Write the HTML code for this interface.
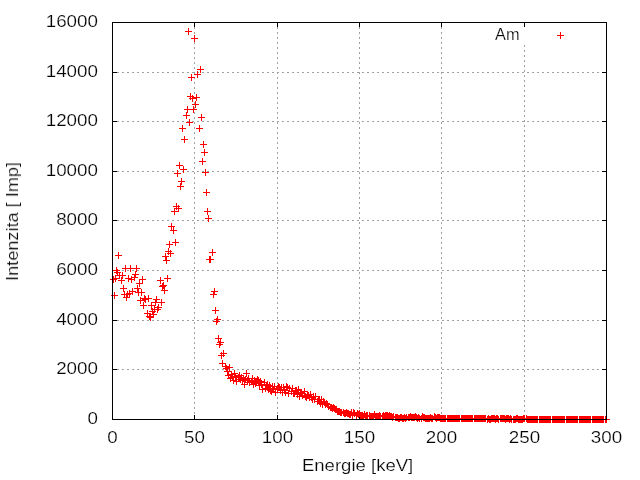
<!DOCTYPE html>
<html><head><meta charset="utf-8"><title>Am</title>
<style>
html,body{margin:0;padding:0;background:#fff;}
body{width:640px;height:480px;overflow:hidden;}
svg{display:block;}
text{font-family:"Liberation Sans",sans-serif;font-size:16.5px;fill:#000;stroke:#fff;stroke-width:0.2px;}
</style></head><body>
<svg width="640" height="480" viewBox="0 0 640 480">
<rect width="640" height="480" fill="#fff"/>
<g fill="none" stroke="#a0a0a0" stroke-width="1" shape-rendering="crispEdges">
<path d="M112 369.5H606M112 320.5H606M112 270.5H606M112 220.5H606M112 171.5H606M112 121.5H606M112 72.5H606" stroke-dasharray="2 3"/>
<path d="M194.5 27V415" stroke-dasharray="2 3"/><path d="M277.5 27V415" stroke-dasharray="2 3"/><path d="M359.5 27V415" stroke-dasharray="2 3"/><path d="M441.5 27V415" stroke-dasharray="2 3"/><path d="M524.5 45V415" stroke-dasharray="2 3"/>
</g>
<path d="M557 35.5h7M560.5 32v7" fill="none" stroke="#ff0000" stroke-width="1" shape-rendering="crispEdges"/>
<path d="M112 419.5h5M607 419.5h-5M112 369.5h5M607 369.5h-5M112 320.5h5M607 320.5h-5M112 270.5h5M607 270.5h-5M112 220.5h5M607 220.5h-5M112 171.5h5M607 171.5h-5M112 121.5h5M607 121.5h-5M112 72.5h5M607 72.5h-5M112 22.5h5M607 22.5h-5M112.5 420v-5M112.5 22v5M194.5 420v-5M194.5 22v5M277.5 420v-5M277.5 22v5M359.5 420v-5M359.5 22v5M441.5 420v-5M441.5 22v5M524.5 420v-5M524.5 22v5M606.5 420v-5M606.5 22v5" fill="none" stroke="#000" stroke-width="1" shape-rendering="crispEdges"/>
<path d="M110 279.5h7M113.5 276v7M111 295.5h7M114.5 292v7M112 278.5h7M115.5 275v7M113 270.5h7M116.5 267v7M114 272.5h7M117.5 269v7M115 255.5h7M118.5 252v7M116 275.5h7M119.5 272v7M118 280.5h7M121.5 277v7M119 275.5h7M122.5 272v7M120 288.5h7M123.5 285v7M121 294.5h7M124.5 291v7M122 268.5h7M125.5 265v7M123 297.5h7M126.5 294v7M124 294.5h7M127.5 291v7M125 278.5h7M128.5 275v7M126 293.5h7M129.5 290v7M127 268.5h7M130.5 265v7M128 279.5h7M131.5 276v7M129 291.5h7M132.5 288v7M131 277.5h7M134.5 274v7M132 274.5h7M135.5 271v7M133 268.5h7M136.5 265v7M134 288.5h7M137.5 285v7M135 292.5h7M138.5 289v7M136 283.5h7M139.5 280v7M137 300.5h7M140.5 297v7M138 292.5h7M141.5 289v7M139 279.5h7M142.5 276v7M140 305.5h7M143.5 302v7M141 298.5h7M144.5 295v7M142 299.5h7M145.5 296v7M144 313.5h7M147.5 310v7M145 298.5h7M148.5 295v7M146 316.5h7M149.5 313v7M147 317.5h7M150.5 314v7M148 305.5h7M151.5 302v7M149 311.5h7M152.5 308v7M150 314.5h7M153.5 311v7M151 309.5h7M154.5 306v7M152 302.5h7M155.5 299v7M153 299.5h7M156.5 296v7M154 309.5h7M157.5 306v7M155 307.5h7M158.5 304v7M157 280.5h7M160.5 277v7M158 302.5h7M161.5 299v7M159 286.5h7M162.5 283v7M160 285.5h7M163.5 282v7M161 290.5h7M164.5 287v7M162 256.5h7M165.5 253v7M163 260.5h7M166.5 257v7M164 278.5h7M167.5 275v7M165 251.5h7M168.5 248v7M166 244.5h7M169.5 241v7M167 253.5h7M170.5 250v7M168 226.5h7M171.5 223v7M170 230.5h7M173.5 227v7M171 211.5h7M174.5 208v7M172 242.5h7M175.5 239v7M173 206.5h7M176.5 203v7M174 173.5h7M177.5 170v7M175 208.5h7M178.5 205v7M176 165.5h7M179.5 162v7M177 186.5h7M180.5 183v7M178 181.5h7M181.5 178v7M179 128.5h7M182.5 125v7M180 169.5h7M183.5 166v7M181 139.5h7M184.5 136v7M183 115.5h7M186.5 112v7M184 109.5h7M187.5 106v7M185 31.5h7M188.5 28v7M186 122.5h7M189.5 119v7M187 96.5h7M190.5 93v7M188 77.5h7M191.5 74v7M189 98.5h7M192.5 95v7M190 109.5h7M193.5 106v7M191 38.5h7M194.5 35v7M192 104.5h7M195.5 101v7M193 97.5h7M196.5 94v7M194 74.5h7M197.5 71v7M196 128.5h7M199.5 125v7M197 69.5h7M200.5 66v7M198 117.5h7M201.5 114v7M199 161.5h7M202.5 158v7M200 144.5h7M203.5 141v7M201 152.5h7M204.5 149v7M202 172.5h7M205.5 169v7M203 192.5h7M206.5 189v7M204 211.5h7M207.5 208v7M205 218.5h7M208.5 215v7M206 259.5h7M209.5 256v7M207 259.5h7M210.5 256v7M209 252.5h7M212.5 249v7M210 294.5h7M213.5 291v7M211 291.5h7M214.5 288v7M212 310.5h7M215.5 307v7M213 321.5h7M216.5 318v7M214 319.5h7M217.5 316v7M215 338.5h7M218.5 335v7M216 344.5h7M219.5 341v7M217 342.5h7M220.5 339v7M218 355.5h7M221.5 352v7M219 363.5h7M222.5 360v7M220 353.5h7M223.5 350v7M222 366.5h7M225.5 363v7M223 368.5h7M226.5 365v7M224 371.5h7M227.5 368v7M225 375.5h7M228.5 372v7M226 367.5h7M229.5 364v7M227 378.5h7M230.5 375v7M228 374.5h7M231.5 371v7M229 377.5h7M232.5 374v7M230 380.5h7M233.5 377v7M231 373.5h7M234.5 370v7M232 376.5h7M235.5 373v7M233 381.5h7M236.5 378v7M235 377.5h7M238.5 374v7M236 375.5h7M239.5 372v7M237 379.5h7M240.5 376v7M238 377.5h7M241.5 374v7M239 380.5h7M242.5 377v7M240 378.5h7M243.5 375v7M241 384.5h7M244.5 381v7M242 379.5h7M245.5 376v7M243 373.5h7M246.5 370v7M244 380.5h7M247.5 377v7M245 378.5h7M248.5 375v7M246 382.5h7M249.5 379v7M248 381.5h7M251.5 378v7M249 378.5h7M252.5 375v7M250 384.5h7M253.5 381v7M251 380.5h7M254.5 377v7M252 383.5h7M255.5 380v7M253 381.5h7M256.5 378v7M254 379.5h7M257.5 376v7M255 380.5h7M258.5 377v7M256 385.5h7M259.5 382v7M257 381.5h7M260.5 378v7M258 384.5h7M261.5 381v7M259 389.5h7M262.5 386v7M261 382.5h7M264.5 379v7M262 388.5h7M265.5 385v7M263 385.5h7M266.5 382v7M264 384.5h7M267.5 381v7M265 389.5h7M268.5 386v7M266 385.5h7M269.5 382v7M267 390.5h7M270.5 387v7M268 391.5h7M271.5 388v7M269 386.5h7M272.5 383v7M270 389.5h7M273.5 386v7M271 386.5h7M274.5 383v7M272 392.5h7M275.5 389v7M274 388.5h7M277.5 385v7M275 386.5h7M278.5 383v7M276 387.5h7M279.5 384v7M277 390.5h7M280.5 387v7M278 387.5h7M281.5 384v7M279 392.5h7M282.5 389v7M280 387.5h7M283.5 384v7M281 390.5h7M284.5 387v7M282 392.5h7M285.5 389v7M283 386.5h7M286.5 383v7M284 387.5h7M287.5 384v7M285 393.5h7M288.5 390v7M286 388.5h7M289.5 385v7M288 391.5h7M291.5 388v7M289 388.5h7M292.5 385v7M290 393.5h7M293.5 390v7M291 393.5h7M294.5 390v7M292 390.5h7M295.5 387v7M293 390.5h7M296.5 387v7M294 394.5h7M297.5 391v7M295 389.5h7M298.5 386v7M296 396.5h7M299.5 393v7M297 392.5h7M300.5 389v7M298 393.5h7M301.5 390v7M299 395.5h7M302.5 392v7M301 391.5h7M304.5 388v7M302 396.5h7M305.5 393v7M303 397.5h7M306.5 394v7M304 395.5h7M307.5 392v7M305 395.5h7M308.5 392v7M306 397.5h7M309.5 394v7M307 394.5h7M310.5 391v7M308 397.5h7M311.5 394v7M309 399.5h7M312.5 396v7M310 396.5h7M313.5 393v7M311 399.5h7M314.5 396v7M312 396.5h7M315.5 393v7M314 401.5h7M317.5 398v7M315 399.5h7M318.5 396v7M316 399.5h7M319.5 396v7M317 403.5h7M320.5 400v7M318 399.5h7M321.5 396v7M319 404.5h7M322.5 401v7M320 401.5h7M323.5 398v7M321 402.5h7M324.5 399v7M322 404.5h7M325.5 401v7M323 403.5h7M326.5 400v7M324 404.5h7M327.5 401v7M325 406.5h7M328.5 403v7M327 407.5h7M330.5 404v7M328 407.5h7M331.5 404v7M329 408.5h7M332.5 405v7M330 407.5h7M333.5 404v7M331 408.5h7M334.5 405v7M332 409.5h7M335.5 406v7M333 409.5h7M336.5 406v7M334 411.5h7M337.5 408v7M335 411.5h7M338.5 408v7M336 411.5h7M339.5 408v7M337 412.5h7M340.5 409v7M338 412.5h7M341.5 409v7M340 412.5h7M343.5 409v7M341 413.5h7M344.5 410v7M342 413.5h7M345.5 410v7M343 412.5h7M346.5 409v7M344 413.5h7M347.5 410v7M345 413.5h7M348.5 410v7M346 414.5h7M349.5 411v7M347 414.5h7M350.5 411v7M348 412.5h7M351.5 409v7M349 415.5h7M352.5 412v7M350 412.5h7M353.5 409v7M351 413.5h7M354.5 410v7M353 415.5h7M356.5 412v7M354 413.5h7M357.5 410v7M355 414.5h7M358.5 411v7M356 413.5h7M359.5 410v7M357 415.5h7M360.5 412v7M358 415.5h7M361.5 412v7M359 415.5h7M362.5 412v7M360 416.5h7M363.5 413v7M361 414.5h7M364.5 411v7M362 416.5h7M365.5 413v7M363 415.5h7M366.5 412v7M364 415.5h7M367.5 412v7M366 415.5h7M369.5 412v7M367 416.5h7M370.5 413v7M368 416.5h7M371.5 413v7M369 416.5h7M372.5 413v7M370 416.5h7M373.5 413v7M371 414.5h7M374.5 411v7M372 416.5h7M375.5 413v7M373 416.5h7M376.5 413v7M374 416.5h7M377.5 413v7M375 416.5h7M378.5 413v7M376 415.5h7M379.5 412v7M377 416.5h7M380.5 413v7M379 416.5h7M382.5 413v7M380 415.5h7M383.5 412v7M381 416.5h7M384.5 413v7M382 415.5h7M385.5 412v7M383 415.5h7M386.5 412v7M384 415.5h7M387.5 412v7M385 416.5h7M388.5 413v7M386 415.5h7M389.5 412v7M387 416.5h7M390.5 413v7M388 416.5h7M391.5 413v7M389 417.5h7M392.5 414v7M390 416.5h7M393.5 413v7M392 417.5h7M395.5 414v7M393 417.5h7M396.5 414v7M394 417.5h7M397.5 414v7M395 418.5h7M398.5 415v7M396 418.5h7M399.5 415v7M397 417.5h7M400.5 414v7M398 417.5h7M401.5 414v7M399 418.5h7M402.5 415v7M400 418.5h7M403.5 415v7M401 417.5h7M404.5 414v7M402 418.5h7M405.5 415v7M403 417.5h7M406.5 414v7M405 417.5h7M408.5 414v7M406 417.5h7M409.5 414v7M407 416.5h7M410.5 413v7M408 417.5h7M411.5 414v7M409 417.5h7M412.5 414v7M410 417.5h7M413.5 414v7M411 417.5h7M414.5 414v7M412 416.5h7M415.5 413v7M413 417.5h7M416.5 414v7M414 418.5h7M417.5 415v7M415 417.5h7M418.5 414v7M416 418.5h7M419.5 415v7M418 418.5h7M421.5 415v7M419 416.5h7M422.5 413v7M420 417.5h7M423.5 414v7M421 417.5h7M424.5 414v7M422 418.5h7M425.5 415v7M423 418.5h7M426.5 415v7M424 418.5h7M427.5 415v7M425 418.5h7M428.5 415v7M426 418.5h7M429.5 415v7M427 417.5h7M430.5 414v7M428 418.5h7M431.5 415v7M429 418.5h7M432.5 415v7M431 416.5h7M434.5 413v7M432 417.5h7M435.5 414v7M433 418.5h7M436.5 415v7M434 417.5h7M437.5 414v7M435 417.5h7M438.5 414v7M436 417.5h7M439.5 414v7M437 418.5h7M440.5 415v7M438 418.5h7M441.5 415v7M439 418.5h7M442.5 415v7M440 418.5h7M443.5 415v7M441 418.5h7M444.5 415v7M442 418.5h7M445.5 415v7M444 418.5h7M447.5 415v7M445 418.5h7M448.5 415v7M446 418.5h7M449.5 415v7M447 418.5h7M450.5 415v7M448 418.5h7M451.5 415v7M449 418.5h7M452.5 415v7M450 418.5h7M453.5 415v7M451 418.5h7M454.5 415v7M452 418.5h7M455.5 415v7M453 418.5h7M456.5 415v7M454 418.5h7M457.5 415v7M455 418.5h7M458.5 415v7M456 418.5h7M459.5 415v7M458 418.5h7M461.5 415v7M459 418.5h7M462.5 415v7M460 418.5h7M463.5 415v7M461 418.5h7M464.5 415v7M462 418.5h7M465.5 415v7M463 418.5h7M466.5 415v7M464 418.5h7M467.5 415v7M465 418.5h7M468.5 415v7M466 418.5h7M469.5 415v7M467 418.5h7M470.5 415v7M468 418.5h7M471.5 415v7M469 418.5h7M472.5 415v7M471 418.5h7M474.5 415v7M472 418.5h7M475.5 415v7M473 418.5h7M476.5 415v7M474 418.5h7M477.5 415v7M475 418.5h7M478.5 415v7M476 418.5h7M479.5 415v7M477 418.5h7M480.5 415v7M478 418.5h7M481.5 415v7M479 418.5h7M482.5 415v7M480 418.5h7M483.5 415v7M481 418.5h7M484.5 415v7M482 418.5h7M485.5 415v7M484 419.5h7M487.5 416v7M485 418.5h7M488.5 415v7M486 419.5h7M489.5 416v7M487 419.5h7M490.5 416v7M488 418.5h7M491.5 415v7M489 418.5h7M492.5 415v7M490 418.5h7M493.5 415v7M491 418.5h7M494.5 415v7M492 419.5h7M495.5 416v7M493 418.5h7M496.5 415v7M494 418.5h7M497.5 415v7M495 419.5h7M498.5 416v7M497 418.5h7M500.5 415v7M498 418.5h7M501.5 415v7M499 418.5h7M502.5 415v7M500 418.5h7M503.5 415v7M501 418.5h7M504.5 415v7M502 419.5h7M505.5 416v7M503 418.5h7M506.5 415v7M504 418.5h7M507.5 415v7M505 418.5h7M508.5 415v7M506 419.5h7M509.5 416v7M507 418.5h7M510.5 415v7M508 419.5h7M511.5 416v7M510 419.5h7M513.5 416v7M511 419.5h7M514.5 416v7M512 419.5h7M515.5 416v7M513 418.5h7M516.5 415v7M514 418.5h7M517.5 415v7M515 419.5h7M518.5 416v7M516 419.5h7M519.5 416v7M517 419.5h7M520.5 416v7M518 419.5h7M521.5 416v7M519 419.5h7M522.5 416v7M520 418.5h7M523.5 415v7M521 418.5h7M524.5 415v7M523 418.5h7M526.5 415v7M524 419.5h7M527.5 416v7M525 419.5h7M528.5 416v7M526 419.5h7M529.5 416v7M527 419.5h7M530.5 416v7M528 419.5h7M531.5 416v7M529 419.5h7M532.5 416v7M530 419.5h7M533.5 416v7M531 419.5h7M534.5 416v7M532 419.5h7M535.5 416v7M533 419.5h7M536.5 416v7M534 419.5h7M537.5 416v7M536 419.5h7M539.5 416v7M537 419.5h7M540.5 416v7M538 419.5h7M541.5 416v7M539 419.5h7M542.5 416v7M540 419.5h7M543.5 416v7M541 419.5h7M544.5 416v7M542 419.5h7M545.5 416v7M543 419.5h7M546.5 416v7M544 419.5h7M547.5 416v7M545 419.5h7M548.5 416v7M546 419.5h7M549.5 416v7M547 419.5h7M550.5 416v7M549 419.5h7M552.5 416v7M550 419.5h7M553.5 416v7M551 419.5h7M554.5 416v7M552 419.5h7M555.5 416v7M553 419.5h7M556.5 416v7M554 419.5h7M557.5 416v7M555 419.5h7M558.5 416v7M556 419.5h7M559.5 416v7M557 419.5h7M560.5 416v7M558 419.5h7M561.5 416v7M559 419.5h7M562.5 416v7M560 419.5h7M563.5 416v7M561 419.5h7M564.5 416v7M563 419.5h7M566.5 416v7M564 419.5h7M567.5 416v7M565 419.5h7M568.5 416v7M566 419.5h7M569.5 416v7M567 419.5h7M570.5 416v7M568 419.5h7M571.5 416v7M569 419.5h7M572.5 416v7M570 419.5h7M573.5 416v7M571 419.5h7M574.5 416v7M572 419.5h7M575.5 416v7M573 419.5h7M576.5 416v7M574 419.5h7M577.5 416v7M576 419.5h7M579.5 416v7M577 419.5h7M580.5 416v7M578 419.5h7M581.5 416v7M579 419.5h7M582.5 416v7M580 419.5h7M583.5 416v7M581 419.5h7M584.5 416v7M582 419.5h7M585.5 416v7M583 419.5h7M586.5 416v7M584 419.5h7M587.5 416v7M585 419.5h7M588.5 416v7M586 419.5h7M589.5 416v7M587 419.5h7M590.5 416v7M589 419.5h7M592.5 416v7M590 419.5h7M593.5 416v7M591 419.5h7M594.5 416v7M592 419.5h7M595.5 416v7M593 419.5h7M596.5 416v7M594 419.5h7M597.5 416v7M595 419.5h7M598.5 416v7M596 419.5h7M599.5 416v7M597 419.5h7M600.5 416v7M598 419.5h7M601.5 416v7M599 419.5h7M602.5 416v7M600 419.5h7M603.5 416v7M602 419.5h7M605.5 416v7M603 419.5h7M606.5 416v7" fill="none" stroke="#ff0000" stroke-width="1" shape-rendering="crispEdges"/>
<rect x="112.5" y="22.5" width="494" height="397" fill="none" stroke="#000" stroke-width="1" shape-rendering="crispEdges"/>
<g opacity="0.99">
<text transform="translate(98,424) scale(1.14,1)" text-anchor="end">0</text><text transform="translate(98,374) scale(1.14,1)" text-anchor="end">2000</text><text transform="translate(98,325) scale(1.14,1)" text-anchor="end">4000</text><text transform="translate(98,275) scale(1.14,1)" text-anchor="end">6000</text><text transform="translate(98,225) scale(1.14,1)" text-anchor="end">8000</text><text transform="translate(98,176) scale(1.14,1)" text-anchor="end">10000</text><text transform="translate(98,126) scale(1.14,1)" text-anchor="end">12000</text><text transform="translate(98,77) scale(1.14,1)" text-anchor="end">14000</text><text transform="translate(98,27) scale(1.14,1)" text-anchor="end">16000</text><text transform="translate(112.5,443) scale(1.14,1)" text-anchor="middle">0</text><text transform="translate(194.5,443) scale(1.14,1)" text-anchor="middle">50</text><text transform="translate(277.5,443) scale(1.14,1)" text-anchor="middle">100</text><text transform="translate(359.5,443) scale(1.14,1)" text-anchor="middle">150</text><text transform="translate(441.5,443) scale(1.14,1)" text-anchor="middle">200</text><text transform="translate(524.5,443) scale(1.14,1)" text-anchor="middle">250</text><text transform="translate(606.5,443) scale(1.14,1)" text-anchor="middle">300</text>
<text transform="translate(519.6,40) scale(0.99,1)" text-anchor="end">Am</text>
<text transform="translate(357.6,471) scale(1.125,1)" text-anchor="middle">Energie [keV]</text>
<text transform="translate(18,221.5) rotate(-90) scale(1.10,1)" text-anchor="middle">Intenzita [ Imp]</text>
</g>
</svg>
</body></html>
